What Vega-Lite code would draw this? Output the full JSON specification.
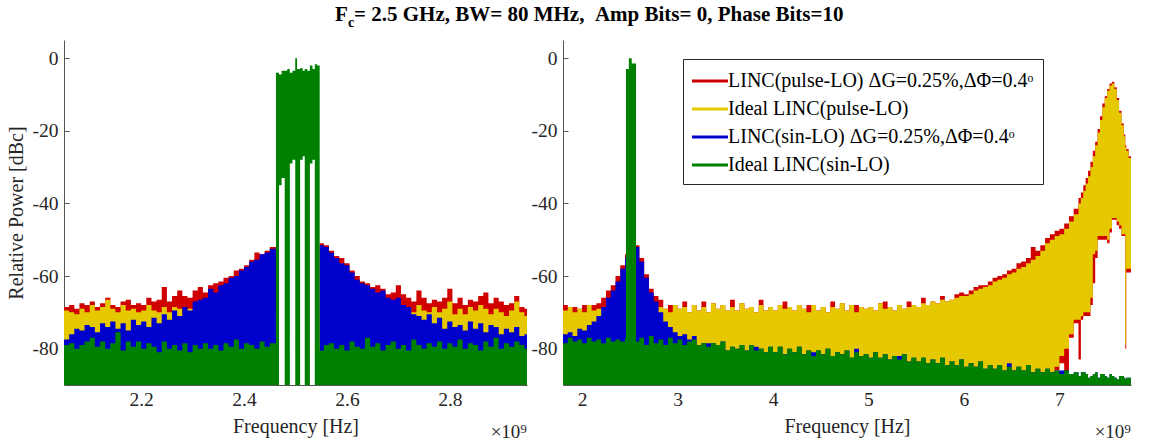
{
  "$schema": "https://vega.github.io/schema/vega-lite/v6.json",
  "background": "white",
  "padding": {"left": 6, "top": 4, "right": 5, "bottom": 0},
  "config": {
    "view": {"stroke": null},
    "font": "Liberation Serif",
    "axis": {
      "grid": false,
      "domainColor": "#555555",
      "domainWidth": 1,
      "tickColor": "#555555",
      "tickSize": -5,
      "tickWidth": 1,
      "labelFont": "Liberation Serif",
      "labelFontSize": 19.5,
      "labelColor": "#262626",
      "titleFont": "Liberation Serif",
      "titleFontSize": 20,
      "titleFontWeight": "normal",
      "titleColor": "#262626"
    },
    "axisY": {"labelPadding": 11, "titlePadding": 6},
    "axisX": {"labelPadding": 10, "titlePadding": 8}
  },
  "datasets": {
    "leftSpectrum": [
      {"f":2.05,"r":-68.5,"y":-69.5,"b":-77.5,"g":-79,"gl":-90},
      {"f":2.06,"r":-68,"y":-70,"b":-76,"g":-78.5,"gl":-90},
      {"f":2.07,"r":-69,"y":-70.5,"b":-74.5,"g":-80,"gl":-90},
      {"f":2.08,"r":-67.5,"y":-69,"b":-75,"g":-79,"gl":-90},
      {"f":2.09,"r":-68,"y":-70,"b":-73.5,"g":-78,"gl":-90},
      {"f":2.10,"r":-67,"y":-68,"b":-74,"g":-77,"gl":-90},
      {"f":2.11,"r":-68.5,"y":-69.5,"b":-75.5,"g":-79.5,"gl":-90},
      {"f":2.12,"r":-67.5,"y":-68.5,"b":-73,"g":-78,"gl":-90},
      {"f":2.13,"r":-66,"y":-66.5,"b":-74,"g":-80,"gl":-90},
      {"f":2.14,"r":-68,"y":-69,"b":-72.5,"g":-78.5,"gl":-90},
      {"f":2.15,"r":-68.5,"y":-70,"b":-74.5,"g":-75.5,"gl":-90},
      {"f":2.16,"r":-67,"y":-68,"b":-73,"g":-80.5,"gl":-90},
      {"f":2.17,"r":-66.5,"y":-69.5,"b":-75,"g":-78,"gl":-90},
      {"f":2.18,"r":-68,"y":-69,"b":-72,"g":-79.5,"gl":-90},
      {"f":2.19,"r":-67.5,"y":-70,"b":-73.5,"g":-78,"gl":-90},
      {"f":2.20,"r":-68,"y":-69.5,"b":-72.5,"g":-80,"gl":-90},
      {"f":2.21,"r":-66,"y":-68,"b":-74,"g":-78.5,"gl":-90},
      {"f":2.22,"r":-67,"y":-69.5,"b":-71.5,"g":-79.5,"gl":-90},
      {"f":2.23,"r":-66.5,"y":-70,"b":-73,"g":-81,"gl":-90},
      {"f":2.24,"r":-63,"y":-68.5,"b":-70.5,"g":-78,"gl":-90},
      {"f":2.25,"r":-67,"y":-70,"b":-72,"g":-80,"gl":-90},
      {"f":2.26,"r":-65.5,"y":-68.5,"b":-69.5,"g":-79,"gl":-90},
      {"f":2.27,"r":-64,"y":-69,"b":-71,"g":-80.5,"gl":-90},
      {"f":2.28,"r":-65.5,"y":-70.5,"b":-68.5,"g":-78.5,"gl":-90},
      {"f":2.29,"r":-66,"y":-69,"b":-69.5,"g":-81,"gl":-90},
      {"f":2.30,"r":-64,"y":-69.5,"b":-67,"g":-79,"gl":-90},
      {"f":2.31,"r":-63,"y":-70,"b":-66.5,"g":-80,"gl":-90},
      {"f":2.32,"r":-64.5,"y":-70,"b":-66,"g":-78.5,"gl":-90},
      {"f":2.33,"r":-62.5,"y":-71,"b":-63.5,"g":-80,"gl":-90},
      {"f":2.34,"r":-62,"y":-70,"b":-64.5,"g":-79,"gl":-90},
      {"f":2.35,"r":-61.5,"y":-71,"b":-62.5,"g":-80.5,"gl":-90},
      {"f":2.36,"r":-60.5,"y":-70,"b":-62,"g":-78.5,"gl":-90},
      {"f":2.37,"r":-60,"y":-70,"b":-60.5,"g":-79.5,"gl":-90},
      {"f":2.38,"r":-58.5,"y":-71,"b":-60,"g":-77.5,"gl":-90},
      {"f":2.39,"r":-58,"y":-70.5,"b":-58.5,"g":-80,"gl":-90},
      {"f":2.40,"r":-57,"y":-70,"b":-57.5,"g":-78.5,"gl":-90},
      {"f":2.41,"r":-55.5,"y":-71,"b":-56,"g":-79,"gl":-90},
      {"f":2.42,"r":-53.5,"y":-70.5,"b":-55.5,"g":-80,"gl":-90},
      {"f":2.43,"r":-54,"y":-70,"b":-54,"g":-78,"gl":-90},
      {"f":2.44,"r":-53,"y":-71,"b":-53.5,"g":-79.5,"gl":-90},
      {"f":2.45,"r":-52,"y":-70,"b":-52.5,"g":-78.5,"gl":-90},
      {"f":2.462,"r":-52,"y":-70,"b":-52.5,"g":-4,"gl":-90},
      {"f":2.468,"g":-4.5,"gl":-35},
      {"f":2.473,"g":-3.5,"gl":-33},
      {"f":2.479,"g":-3.5,"gl":-90},
      {"f":2.484,"g":-3,"gl":-90},
      {"f":2.489,"g":-4,"gl":-29},
      {"f":2.494,"g":-3.5,"gl":-28},
      {"f":2.4995,"g":0,"gl":-90},
      {"f":2.503,"g":-3,"gl":-90},
      {"f":2.509,"g":-2.8,"gl":-28},
      {"f":2.514,"g":-3.5,"gl":-27},
      {"f":2.518,"g":-3,"gl":-90},
      {"f":2.523,"g":-3.5,"gl":-90},
      {"f":2.528,"g":-2,"gl":-29},
      {"f":2.533,"g":-3,"gl":-28},
      {"f":2.5375,"g":-1.7,"gl":-90},
      {"f":2.542,"g":-2,"gl":-90},
      {"f":2.547,"r":-51,"y":-70,"b":-51.5,"g":-80.5,"gl":-90},
      {"f":2.555,"r":-51.5,"y":-70,"b":-52,"g":-79,"gl":-90},
      {"f":2.565,"r":-53,"y":-71,"b":-53.5,"g":-78.5,"gl":-90},
      {"f":2.575,"r":-54.5,"y":-70,"b":-55,"g":-80,"gl":-90},
      {"f":2.585,"r":-55,"y":-70.5,"b":-56.5,"g":-79,"gl":-90},
      {"f":2.595,"r":-56.5,"y":-71,"b":-57,"g":-80.5,"gl":-90},
      {"f":2.605,"r":-58.5,"y":-70,"b":-59,"g":-78,"gl":-90},
      {"f":2.615,"r":-60,"y":-71,"b":-61,"g":-79.5,"gl":-90},
      {"f":2.625,"r":-61.5,"y":-70.5,"b":-62,"g":-80,"gl":-90},
      {"f":2.635,"r":-62,"y":-71,"b":-62.5,"g":-77,"gl":-90},
      {"f":2.645,"r":-63,"y":-70,"b":-63.5,"g":-79.5,"gl":-90},
      {"f":2.655,"r":-62.5,"y":-70.5,"b":-64.5,"g":-78.5,"gl":-90},
      {"f":2.665,"r":-63.5,"y":-70,"b":-64,"g":-80.5,"gl":-90},
      {"f":2.675,"r":-65,"y":-71,"b":-66,"g":-79,"gl":-90},
      {"f":2.685,"r":-64.5,"y":-70,"b":-66.5,"g":-78,"gl":-90},
      {"f":2.695,"r":-62.5,"y":-69.5,"b":-66,"g":-80,"gl":-90},
      {"f":2.705,"r":-65,"y":-70,"b":-68,"g":-79,"gl":-90},
      {"f":2.715,"r":-66,"y":-68.5,"b":-68.5,"g":-80.5,"gl":-90},
      {"f":2.725,"r":-67,"y":-70,"b":-70.5,"g":-77.5,"gl":-90},
      {"f":2.735,"r":-64,"y":-68,"b":-71,"g":-79,"gl":-90},
      {"f":2.745,"r":-66,"y":-69.5,"b":-72,"g":-80,"gl":-90},
      {"f":2.755,"r":-67.5,"y":-70,"b":-70.5,"g":-78.5,"gl":-90},
      {"f":2.765,"r":-66.5,"y":-68.5,"b":-73,"g":-79.5,"gl":-90},
      {"f":2.775,"r":-67,"y":-70,"b":-71.5,"g":-78,"gl":-90},
      {"f":2.785,"r":-66,"y":-69,"b":-74.5,"g":-80,"gl":-90},
      {"f":2.795,"r":-63.5,"y":-67,"b":-72.5,"g":-78.5,"gl":-90},
      {"f":2.805,"r":-67.5,"y":-70.5,"b":-74,"g":-79.5,"gl":-90},
      {"f":2.815,"r":-66,"y":-69,"b":-73.5,"g":-77.5,"gl":-90},
      {"f":2.825,"r":-68,"y":-70.5,"b":-75,"g":-80,"gl":-90},
      {"f":2.835,"r":-66.5,"y":-68.5,"b":-72.5,"g":-78.5,"gl":-90},
      {"f":2.845,"r":-67,"y":-69.5,"b":-74.5,"g":-79,"gl":-90},
      {"f":2.855,"r":-65.5,"y":-68,"b":-73,"g":-80.5,"gl":-90},
      {"f":2.865,"r":-64.5,"y":-69,"b":-75.5,"g":-78,"gl":-90},
      {"f":2.875,"r":-67.5,"y":-70.5,"b":-73.5,"g":-79.5,"gl":-90},
      {"f":2.885,"r":-66,"y":-69,"b":-74,"g":-77,"gl":-90},
      {"f":2.895,"r":-67,"y":-70,"b":-76,"g":-80,"gl":-90},
      {"f":2.905,"r":-68,"y":-71,"b":-74.5,"g":-78.5,"gl":-90},
      {"f":2.915,"r":-67.5,"y":-69.5,"b":-75.5,"g":-79.5,"gl":-90},
      {"f":2.925,"r":-65.5,"y":-67,"b":-74,"g":-78,"gl":-90},
      {"f":2.935,"r":-68.5,"y":-70,"b":-76.5,"g":-79,"gl":-90},
      {"f":2.945,"r":-69,"y":-71,"b":-76,"g":-80,"gl":-90},
      {"f":2.95,"r":-69,"y":-71.5,"b":-76.5,"g":-80,"gl":-90}
    ],
    "rightSpectrum": [
      {"f":1.80,"r":-68,"rl":-90,"y":-69.5,"yl":-90,"b":-76,"g":-78.5},
      {"f":1.85,"r":-68.5,"rl":-90,"y":-68.5,"yl":-90,"b":-75.5,"g":-77},
      {"f":1.90,"r":-68.5,"rl":-90,"y":-70,"yl":-90,"b":-76.5,"g":-78},
      {"f":1.95,"r":-69,"rl":-90,"y":-69,"yl":-90,"b":-74.5,"g":-77.5},
      {"f":2.00,"r":-68,"rl":-90,"y":-70,"yl":-90,"b":-75,"g":-78.5},
      {"f":2.05,"r":-68,"rl":-90,"y":-68,"yl":-90,"b":-73.5,"g":-77},
      {"f":2.10,"r":-68,"rl":-90,"y":-69.5,"yl":-90,"b":-72.5,"g":-78},
      {"f":2.15,"r":-67.5,"rl":-90,"y":-69,"yl":-90,"b":-71,"g":-77.5},
      {"f":2.20,"r":-66,"rl":-90,"y":-68.5,"yl":-90,"b":-68.5,"g":-78.5},
      {"f":2.25,"r":-64,"rl":-90,"y":-69.5,"yl":-90,"b":-66,"g":-77},
      {"f":2.30,"r":-62.5,"rl":-90,"y":-69,"yl":-90,"b":-64,"g":-78},
      {"f":2.35,"r":-60,"rl":-90,"y":-70,"yl":-90,"b":-61.5,"g":-77.5},
      {"f":2.40,"r":-57,"rl":-90,"y":-69,"yl":-90,"b":-58,"g":-78},
      {"f":2.45,"r":-54,"rl":-90,"y":-70,"yl":-90,"b":-55,"g":-77},
      {"f":2.46,"r":-52.5,"rl":-90,"y":-69.5,"yl":-90,"b":-53,"g":-3},
      {"f":2.49,"r":-52,"rl":-90,"y":-70,"yl":-90,"b":-52,"g":0},
      {"f":2.52,"r":-51.5,"rl":-90,"y":-70,"yl":-90,"b":-51.5,"g":-1.5},
      {"f":2.565,"r":-51.5,"rl":-90,"y":-69.5,"yl":-90,"b":-52,"g":-78},
      {"f":2.60,"r":-55,"rl":-90,"y":-70,"yl":-90,"b":-56,"g":-77},
      {"f":2.65,"r":-59.5,"rl":-90,"y":-69,"yl":-90,"b":-60.5,"g":-79},
      {"f":2.70,"r":-63.5,"rl":-90,"y":-68.5,"yl":-90,"b":-64.5,"g":-76.5},
      {"f":2.75,"r":-65.5,"rl":-90,"y":-69.5,"yl":-90,"b":-67,"g":-78.5},
      {"f":2.80,"r":-66.5,"rl":-90,"y":-68.5,"yl":-90,"b":-70,"g":-77.5},
      {"f":2.85,"r":-69,"rl":-90,"y":-69,"yl":-90,"b":-72.5,"g":-79},
      {"f":2.90,"r":-68,"rl":-90,"y":-70,"yl":-90,"b":-74,"g":-77},
      {"f":2.95,"r":-68,"rl":-90,"y":-68,"yl":-90,"b":-75.5,"g":-78.5},
      {"f":3.00,"r":-69,"rl":-90,"y":-69,"yl":-90,"b":-76.5,"g":-77.5},
      {"f":3.05,"r":-67,"rl":-90,"y":-68.5,"yl":-90,"b":-76,"g":-79},
      {"f":3.10,"r":-70,"rl":-90,"y":-70,"yl":-90,"b":-77.5,"g":-78},
      {"f":3.15,"r":-68,"rl":-90,"y":-68,"yl":-90,"b":-76.5,"g":-77.5},
      {"f":3.20,"r":-69.5,"rl":-90,"y":-69.5,"yl":-90,"b":-79,"g":-79},
      {"f":3.25,"r":-67,"rl":-90,"y":-68.5,"yl":-90,"b":-78.5,"g":-78.5},
      {"f":3.30,"r":-70,"rl":-90,"y":-70,"yl":-90,"b":-78.5,"g":-79.5},
      {"f":3.35,"r":-67.5,"rl":-90,"y":-67.5,"yl":-90,"b":-78.5,"g":-78.5},
      {"f":3.40,"r":-69,"rl":-90,"y":-69,"yl":-90,"b":-79,"g":-79},
      {"f":3.45,"r":-68,"rl":-90,"y":-68,"yl":-90,"b":-78,"g":-78},
      {"f":3.50,"r":-69.5,"rl":-90,"y":-69.5,"yl":-90,"b":-80.5,"g":-80.5},
      {"f":3.55,"r":-66.5,"rl":-90,"y":-68.5,"yl":-90,"b":-79.5,"g":-79.5},
      {"f":3.60,"r":-69.5,"rl":-90,"y":-69.5,"yl":-90,"b":-80,"g":-80},
      {"f":3.65,"r":-67.5,"rl":-90,"y":-67.5,"yl":-90,"b":-79,"g":-79},
      {"f":3.70,"r":-69,"rl":-90,"y":-69,"yl":-90,"b":-80.5,"g":-80.5},
      {"f":3.75,"r":-68.5,"rl":-90,"y":-68.5,"yl":-90,"b":-79,"g":-79},
      {"f":3.80,"r":-70,"rl":-90,"y":-70,"yl":-90,"b":-79.5,"g":-80.5},
      {"f":3.85,"r":-66.5,"rl":-90,"y":-68,"yl":-90,"b":-80,"g":-80},
      {"f":3.90,"r":-69.5,"rl":-90,"y":-69.5,"yl":-90,"b":-81,"g":-81},
      {"f":3.95,"r":-68.5,"rl":-90,"y":-68.5,"yl":-90,"b":-79.5,"g":-79.5},
      {"f":4.00,"r":-69.5,"rl":-90,"y":-69.5,"yl":-90,"b":-81,"g":-81},
      {"f":4.05,"r":-68,"rl":-90,"y":-68,"yl":-90,"b":-79.5,"g":-79.5},
      {"f":4.10,"r":-67,"rl":-90,"y":-69,"yl":-90,"b":-81.5,"g":-81.5},
      {"f":4.15,"r":-68.5,"rl":-90,"y":-68.5,"yl":-90,"b":-80,"g":-80},
      {"f":4.20,"r":-69.5,"rl":-90,"y":-69.5,"yl":-90,"b":-81,"g":-81},
      {"f":4.25,"r":-68,"rl":-90,"y":-68,"yl":-90,"b":-79.5,"g":-79.5},
      {"f":4.30,"r":-69,"rl":-90,"y":-69,"yl":-90,"b":-81.5,"g":-81.5},
      {"f":4.35,"r":-68,"rl":-90,"y":-70,"yl":-90,"b":-80.5,"g":-80.5},
      {"f":4.40,"r":-68,"rl":-90,"y":-68,"yl":-90,"b":-81,"g":-82},
      {"f":4.45,"r":-69.5,"rl":-90,"y":-69.5,"yl":-90,"b":-80.5,"g":-80.5},
      {"f":4.50,"r":-68.5,"rl":-90,"y":-68.5,"yl":-90,"b":-81.5,"g":-81.5},
      {"f":4.55,"r":-70,"rl":-90,"y":-70,"yl":-90,"b":-80,"g":-80},
      {"f":4.60,"r":-67,"rl":-90,"y":-68.5,"yl":-90,"b":-82,"g":-82},
      {"f":4.65,"r":-69,"rl":-90,"y":-69,"yl":-90,"b":-81,"g":-81},
      {"f":4.70,"r":-67.5,"rl":-90,"y":-67.5,"yl":-90,"b":-81.5,"g":-81.5},
      {"f":4.75,"r":-69.5,"rl":-90,"y":-69.5,"yl":-90,"b":-80.5,"g":-80.5},
      {"f":4.80,"r":-68,"rl":-90,"y":-68,"yl":-90,"b":-82.5,"g":-82.5},
      {"f":4.85,"r":-68,"rl":-90,"y":-70,"yl":-90,"b":-80,"g":-81},
      {"f":4.90,"r":-68.5,"rl":-90,"y":-68.5,"yl":-90,"b":-82,"g":-82},
      {"f":4.95,"r":-69,"rl":-90,"y":-69,"yl":-90,"b":-81.5,"g":-81.5},
      {"f":5.00,"r":-68.5,"rl":-90,"y":-68.5,"yl":-90,"b":-82.5,"g":-82.5},
      {"f":5.05,"r":-69.5,"rl":-90,"y":-69.5,"yl":-90,"b":-81,"g":-81},
      {"f":5.10,"r":-67.5,"rl":-90,"y":-67.5,"yl":-90,"b":-82.5,"g":-82.5},
      {"f":5.15,"r":-67,"rl":-90,"y":-69,"yl":-90,"b":-81.5,"g":-81.5},
      {"f":5.20,"r":-68.5,"rl":-90,"y":-68.5,"yl":-90,"b":-83,"g":-83},
      {"f":5.25,"r":-69.5,"rl":-90,"y":-69.5,"yl":-90,"b":-82,"g":-82},
      {"f":5.30,"r":-68,"rl":-90,"y":-68,"yl":-90,"b":-82,"g":-83},
      {"f":5.35,"r":-69,"rl":-90,"y":-69,"yl":-90,"b":-81.5,"g":-81.5},
      {"f":5.40,"r":-67,"rl":-90,"y":-68.5,"yl":-90,"b":-83.5,"g":-83.5},
      {"f":5.45,"r":-68,"rl":-90,"y":-68,"yl":-90,"b":-82.5,"g":-82.5},
      {"f":5.50,"r":-68.5,"rl":-90,"y":-68.5,"yl":-90,"b":-83.5,"g":-83.5},
      {"f":5.55,"r":-66,"rl":-90,"y":-67.5,"yl":-90,"b":-82.5,"g":-82.5},
      {"f":5.60,"r":-68,"rl":-90,"y":-68,"yl":-90,"b":-84,"g":-84},
      {"f":5.65,"r":-67,"rl":-90,"y":-67,"yl":-90,"b":-83,"g":-83},
      {"f":5.70,"r":-67.5,"rl":-90,"y":-67.5,"yl":-90,"b":-84,"g":-84},
      {"f":5.75,"r":-65.5,"rl":-90,"y":-66.5,"yl":-90,"b":-82.5,"g":-82.5},
      {"f":5.80,"r":-67,"rl":-90,"y":-67,"yl":-90,"b":-84.5,"g":-84.5},
      {"f":5.85,"r":-66.5,"rl":-90,"y":-66.5,"yl":-90,"b":-83.5,"g":-83.5},
      {"f":5.90,"r":-65,"rl":-90,"y":-66,"yl":-90,"b":-84.5,"g":-84.5},
      {"f":5.95,"r":-64.5,"rl":-90,"y":-65.5,"yl":-90,"b":-83,"g":-83},
      {"f":6.00,"r":-65,"rl":-90,"y":-65.5,"yl":-90,"b":-85,"g":-85},
      {"f":6.05,"r":-64,"rl":-90,"y":-65,"yl":-90,"b":-84,"g":-84},
      {"f":6.10,"r":-63,"rl":-90,"y":-64,"yl":-90,"b":-85,"g":-85},
      {"f":6.15,"r":-62.5,"rl":-90,"y":-63.5,"yl":-90,"b":-83.5,"g":-83.5},
      {"f":6.20,"r":-62.5,"rl":-90,"y":-63,"yl":-90,"b":-85.5,"g":-85.5},
      {"f":6.25,"r":-61.5,"rl":-90,"y":-62.5,"yl":-90,"b":-84.5,"g":-84.5},
      {"f":6.30,"r":-60.5,"rl":-90,"y":-61.5,"yl":-90,"b":-85.5,"g":-85.5},
      {"f":6.35,"r":-60,"rl":-90,"y":-61,"yl":-90,"b":-84.5,"g":-84.5},
      {"f":6.40,"r":-59.5,"rl":-90,"y":-60.5,"yl":-90,"b":-86,"g":-86},
      {"f":6.45,"r":-58.5,"rl":-90,"y":-59.5,"yl":-90,"b":-84,"g":-85},
      {"f":6.50,"r":-58,"rl":-90,"y":-59,"yl":-90,"b":-86,"g":-86},
      {"f":6.55,"r":-56.5,"rl":-90,"y":-58,"yl":-90,"b":-85,"g":-85},
      {"f":6.60,"r":-56,"rl":-90,"y":-57.5,"yl":-90,"b":-86,"g":-86},
      {"f":6.65,"r":-55,"rl":-90,"y":-56.5,"yl":-90,"b":-84.5,"g":-84.5},
      {"f":6.70,"r":-52,"rl":-90,"y":-55.5,"yl":-90,"b":-86.5,"g":-86.5},
      {"f":6.75,"r":-53,"rl":-90,"y":-54.5,"yl":-90,"b":-85.5,"g":-85.5},
      {"f":6.80,"r":-51.5,"rl":-90,"y":-53,"yl":-90,"b":-86.5,"g":-86.5},
      {"f":6.85,"r":-49.5,"rl":-90,"y":-51,"yl":-90,"b":-85.5,"g":-85.5},
      {"f":6.90,"r":-48.5,"rl":-90,"y":-50,"yl":-90,"b":-86.5,"g":-86.5},
      {"f":6.95,"r":-47.5,"rl":-86,"y":-49,"yl":-85,"b":-86,"g":-86},
      {"f":7.00,"r":-47,"rl":-84,"y":-48.5,"yl":-82,"b":-86,"g":-87},
      {"f":7.05,"r":-45.5,"rl":-87,"y":-47,"yl":-80,"b":-86,"g":-86},
      {"f":7.10,"r":-43.5,"rl":-77,"y":-45,"yl":-76,"b":-87,"g":-87},
      {"f":7.15,"r":-41.5,"rl":-73,"y":-43,"yl":-72,"b":-86.5,"g":-86.5},
      {"f":7.20,"r":-38.5,"rl":-83,"y":-40,"yl":-72,"b":-87.5,"g":-87.5},
      {"f":7.225,"r":-37,"rl":-72,"y":-38.5,"yl":-71,"b":-86.5,"g":-86.5},
      {"f":7.25,"r":-35,"rl":-71,"y":-36.5,"yl":-70,"b":-86.5,"g":-86.5},
      {"f":7.275,"r":-33,"rl":-71,"y":-34.5,"yl":-70,"b":-87,"g":-87},
      {"f":7.30,"r":-31,"rl":-71,"y":-32.5,"yl":-70,"b":-88,"g":-88},
      {"f":7.325,"r":-28.5,"rl":-68,"y":-30,"yl":-66,"b":-87.5,"g":-87.5},
      {"f":7.35,"r":-25.5,"rl":-62,"y":-27,"yl":-54,"b":-87,"g":-87},
      {"f":7.375,"r":-23,"rl":-55,"y":-24,"yl":-53,"b":-86.5,"g":-86.5},
      {"f":7.40,"r":-19.5,"rl":-50,"y":-20.5,"yl":-49,"b":-88,"g":-88},
      {"f":7.425,"r":-16,"rl":-50,"y":-17,"yl":-49,"b":-87,"g":-87},
      {"f":7.45,"r":-12.5,"rl":-50,"y":-13.5,"yl":-49,"b":-87,"g":-87},
      {"f":7.475,"r":-10.5,"rl":-50,"y":-11,"yl":-49,"b":-87.5,"g":-87.5},
      {"f":7.50,"r":-8.5,"rl":-51,"y":-9,"yl":-50,"b":-88,"g":-88},
      {"f":7.525,"r":-7,"rl":-48,"y":-7.5,"yl":-47,"b":-87,"g":-87},
      {"f":7.55,"r":-6.5,"rl":-44.5,"y":-7,"yl":-44,"b":-87.5,"g":-87.5},
      {"f":7.575,"r":-8,"rl":-44.5,"y":-8.5,"yl":-44,"b":-88,"g":-88},
      {"f":7.60,"r":-11,"rl":-46,"y":-11.5,"yl":-45,"b":-88.5,"g":-88.5},
      {"f":7.625,"r":-14.5,"rl":-47,"y":-15,"yl":-46,"b":-87.5,"g":-87.5},
      {"f":7.65,"r":-18,"rl":-49,"y":-18.5,"yl":-48.5,"b":-87.5,"g":-87.5},
      {"f":7.675,"r":-21,"rl":-49,"y":-21.5,"yl":-48.5,"b":-88,"g":-88},
      {"f":7.69,"r":-24,"rl":-80,"y":-24.5,"yl":-79,"b":-88.5,"g":-88.5},
      {"f":7.70,"r":-25,"rl":-59,"y":-25.5,"yl":-58,"b":-88,"g":-88},
      {"f":7.725,"r":-27,"rl":-59,"y":-27.5,"yl":-58,"b":-88,"g":-88},
      {"f":7.75,"r":-29,"rl":-59,"y":-29.5,"yl":-58,"b":-88.5,"g":-88.5}
    ]
  },
  "spacing": 36,
  "bounds": "flush",
  "resolve": {"scale": {"color": "independent"}, "legend": {"color": "independent"}},
  "hconcat": [
    {
      "width": 463,
      "height": 345,
      "data": {"name": "leftSpectrum"},
      "encoding": {
        "x": {
          "field": "f",
          "type": "quantitative",
          "scale": {"domain": [2.05, 2.95], "nice": false, "zero": false},
          "axis": {"values": [2.2, 2.4, 2.6, 2.8], "format": ".1f", "title": "Frequency [Hz]"}
        }
      },
      "layer": [
        {
          "mark": {"type": "area", "interpolate": "step-after", "color": "#D10000", "opacity": 1, "clip": true, "invalid": "break-paths-filter-domains"},
          "encoding": {
            "y": {
              "field": "r",
              "type": "quantitative",
              "scale": {"domain": [-90, 5], "nice": false, "zero": false},
              "axis": {"values": [0, -20, -40, -60, -80], "labelExpr": "'' + datum.value", "title": "Relative Power [dBc]"}
            },
            "y2": {"datum": -90}
          }
        },
        {
          "mark": {"type": "area", "interpolate": "step-after", "color": "#E6C800", "opacity": 1, "clip": true, "invalid": "break-paths-filter-domains"},
          "encoding": {
            "y": {"field": "y", "type": "quantitative", "scale": {"domain": [-90, 5], "nice": false, "zero": false}, "title": "Relative Power [dBc]"},
            "y2": {"datum": -90}
          }
        },
        {
          "mark": {"type": "area", "interpolate": "step-after", "color": "#0000CC", "opacity": 1, "clip": true, "invalid": "break-paths-filter-domains"},
          "encoding": {
            "y": {"field": "b", "type": "quantitative", "scale": {"domain": [-90, 5], "nice": false, "zero": false}, "title": "Relative Power [dBc]"},
            "y2": {"datum": -90}
          }
        },
        {
          "mark": {"type": "area", "interpolate": "step-after", "color": "#008000", "opacity": 1, "clip": true, "invalid": "break-paths-filter-domains"},
          "encoding": {
            "y": {"field": "g", "type": "quantitative", "scale": {"domain": [-90, 5], "nice": false, "zero": false}, "title": "Relative Power [dBc]"},
            "y2": {"field": "gl"}
          }
        },
        {
          "data": {"values": [{"f": 2.95, "v": -102.9, "t": "×10⁹"}]},
          "mark": {"type": "text", "align": "right", "baseline": "middle", "font": "Liberation Serif", "fontSize": 19, "color": "#262626"},
          "encoding": {
            "y": {"field": "v", "type": "quantitative", "scale": {"domain": [-90, 5], "nice": false, "zero": false}, "title": "Relative Power [dBc]"},
            "text": {"field": "t"}
          }
        },
        {
          "data": {"values": [
            {"f": 2.5768, "v": 10.23, "t": "F"},
            {"f": 2.6137, "v": 10.23, "t": "= 2.5 GHz, BW= 80 MHz,\u00a0\u00a0Amp Bits= 0, Phase Bits=10"}
          ]},
          "mark": {"type": "text", "align": "left", "baseline": "alphabetic", "font": "Liberation Serif", "fontSize": 21, "fontWeight": "bold", "color": "black"},
          "encoding": {
            "y": {"field": "v", "type": "quantitative", "scale": {"domain": [-90, 5], "nice": false, "zero": false}, "title": "Relative Power [dBc]"},
            "text": {"field": "t"}
          }
        },
        {
          "data": {"values": [{"f": 2.602, "v": 8.58, "t": "c"}]},
          "mark": {"type": "text", "align": "left", "baseline": "alphabetic", "font": "Liberation Serif", "fontSize": 14, "fontWeight": "bold", "color": "black"},
          "encoding": {
            "y": {"field": "v", "type": "quantitative", "scale": {"domain": [-90, 5], "nice": false, "zero": false}, "title": "Relative Power [dBc]"},
            "text": {"field": "t"}
          }
        }
      ]
    },
    {
      "width": 568,
      "height": 345,
      "data": {"name": "rightSpectrum"},
      "encoding": {
        "x": {
          "field": "f",
          "type": "quantitative",
          "scale": {"domain": [1.8, 7.75], "nice": false, "zero": false},
          "axis": {"values": [2, 3, 4, 5, 6, 7], "format": "d", "title": "Frequency [Hz]"}
        }
      },
      "layer": [
        {
          "mark": {"type": "area", "interpolate": "step-after", "opacity": 1, "clip": true},
          "encoding": {
            "y": {
              "field": "r",
              "type": "quantitative",
              "scale": {"domain": [-90, 5], "nice": false, "zero": false},
              "axis": {"values": [0, -20, -40, -60, -80], "labelExpr": "'' + datum.value", "title": null}
            },
            "y2": {"field": "rl"},
            "color": {
              "datum": "LINC(pulse-LO) ΔG=0.25%,ΔΦ=0.4ᵒ",
              "type": "nominal",
              "scale": {
                "domain": ["LINC(pulse-LO) ΔG=0.25%,ΔΦ=0.4ᵒ", "Ideal LINC(pulse-LO)", "LINC(sin-LO) ΔG=0.25%,ΔΦ=0.4ᵒ", "Ideal LINC(sin-LO)"],
                "range": ["#D10000", "#E6C800", "#0000CC", "#008000"]
              },
              "legend": {
                "title": null,
                "orient": "none",
                "legendX": 120,
                "legendY": 19,
                "symbolType": "M-1,-0.11H1.77V0.11H-1Z",
                "symbolSize": 676,
                "symbolStrokeWidth": 0,
                "symbolOpacity": 1,
                "labelOffset": 10,
                "labelFont": "Liberation Serif",
                "labelFontSize": 20,
                "labelColor": "black",
                "labelLimit": 600,
                "rowPadding": 5,
                "padding": 9,
                "strokeColor": "#262626",
                "fillColor": "white"
              }
            }
          }
        },
        {
          "mark": {"type": "area", "interpolate": "step-after", "opacity": 1, "clip": true},
          "encoding": {
            "y": {"field": "y", "type": "quantitative", "scale": {"domain": [-90, 5], "nice": false, "zero": false}, "title": null},
            "y2": {"field": "yl"},
            "color": {
              "datum": "Ideal LINC(pulse-LO)",
              "type": "nominal",
              "scale": {
                "domain": ["LINC(pulse-LO) ΔG=0.25%,ΔΦ=0.4ᵒ", "Ideal LINC(pulse-LO)", "LINC(sin-LO) ΔG=0.25%,ΔΦ=0.4ᵒ", "Ideal LINC(sin-LO)"],
                "range": ["#D10000", "#E6C800", "#0000CC", "#008000"]
              }
            }
          }
        },
        {
          "mark": {"type": "area", "interpolate": "step-after", "opacity": 1, "clip": true},
          "encoding": {
            "y": {"field": "b", "type": "quantitative", "scale": {"domain": [-90, 5], "nice": false, "zero": false}, "title": null},
            "y2": {"datum": -90},
            "color": {
              "datum": "LINC(sin-LO) ΔG=0.25%,ΔΦ=0.4ᵒ",
              "type": "nominal",
              "scale": {
                "domain": ["LINC(pulse-LO) ΔG=0.25%,ΔΦ=0.4ᵒ", "Ideal LINC(pulse-LO)", "LINC(sin-LO) ΔG=0.25%,ΔΦ=0.4ᵒ", "Ideal LINC(sin-LO)"],
                "range": ["#D10000", "#E6C800", "#0000CC", "#008000"]
              }
            }
          }
        },
        {
          "mark": {"type": "area", "interpolate": "step-after", "opacity": 1, "clip": true},
          "encoding": {
            "y": {"field": "g", "type": "quantitative", "scale": {"domain": [-90, 5], "nice": false, "zero": false}, "title": null},
            "y2": {"datum": -90},
            "color": {
              "datum": "Ideal LINC(sin-LO)",
              "type": "nominal",
              "scale": {
                "domain": ["LINC(pulse-LO) ΔG=0.25%,ΔΦ=0.4ᵒ", "Ideal LINC(pulse-LO)", "LINC(sin-LO) ΔG=0.25%,ΔΦ=0.4ᵒ", "Ideal LINC(sin-LO)"],
                "range": ["#D10000", "#E6C800", "#0000CC", "#008000"]
              }
            }
          }
        },
        {
          "data": {"values": [{"f": 7.75, "v": -102.9, "t": "×10⁹"}]},
          "mark": {"type": "text", "align": "right", "baseline": "middle", "font": "Liberation Serif", "fontSize": 19, "color": "#262626"},
          "encoding": {
            "y": {"field": "v", "type": "quantitative", "scale": {"domain": [-90, 5], "nice": false, "zero": false}, "title": null},
            "text": {"field": "t"}
          }
        }
      ]
    }
  ]
}
